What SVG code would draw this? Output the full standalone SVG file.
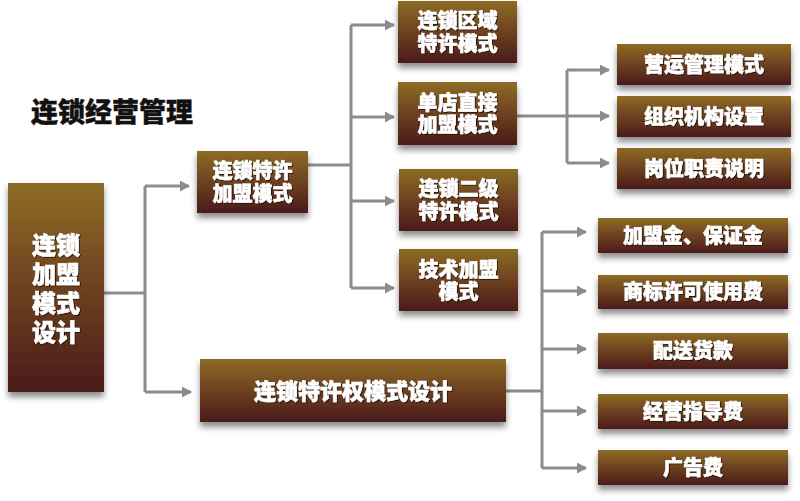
<svg xmlns="http://www.w3.org/2000/svg" width="800" height="501" viewBox="0 0 800 501">
<defs>
<linearGradient id="g" x1="0" y1="0" x2="0" y2="1">
<stop offset="0" stop-color="#8e6c25"/>
<stop offset="0.5" stop-color="#6d4120"/>
<stop offset="1" stop-color="#4b1a1c"/>
</linearGradient>
<filter id="sh" x="-10%" y="-20%" width="120%" height="160%">
<feDropShadow dx="0" dy="5" stdDeviation="3" flood-color="#000" flood-opacity="0.45"/>
</filter>
<filter id="ts" x="-10%" y="-20%" width="120%" height="160%">
<feDropShadow dx="1" dy="1" stdDeviation="0.6" flood-color="#1a0a05" flood-opacity="0.8"/>
</filter>
<marker id="ar" markerUnits="userSpaceOnUse" markerWidth="10" markerHeight="11" refX="9" refY="5.5" orient="auto">
<path d="M0,0 L10,5.5 L0,11 z" fill="#8c8c8c"/>
</marker>
</defs>
<style>
.box{fill:url(#g);filter:url(#sh);}
.t{font-family:"Liberation Sans","Noto Sans CJK SC",sans-serif;font-weight:900;fill:#fff;stroke:#fff;stroke-width:0.5;text-anchor:middle;dominant-baseline:central;filter:url(#ts);}
.c{fill:none;stroke:#8c8c8c;stroke-width:3;}
.a{marker-end:url(#ar);}
</style>
<rect width="800" height="501" fill="#fff"/>
<text x="112" y="113" font-family="Liberation Sans, Noto Sans CJK SC, sans-serif" font-weight="900" font-size="27" text-anchor="middle" dominant-baseline="central" fill="#111" stroke="#111" stroke-width="0.4">连锁经营管理</text>

<g id="connectors">
<path class="c" d="M104,293 H145 M145,186 V392"/>
<path class="c a" d="M145,186 H189"/>
<path class="c a" d="M145,392 H191"/>
<path class="c" d="M308,165 H351 M351,25 V288"/>
<path class="c a" d="M351,25 H394"/>
<path class="c a" d="M351,117 H394"/>
<path class="c a" d="M351,201 H394"/>
<path class="c a" d="M351,288 H394"/>
<path class="c" d="M517,116 H567 M567,70 V163"/>
<path class="c a" d="M567,70 H609"/>
<path class="c a" d="M567,116 H609"/>
<path class="c a" d="M567,163 H609"/>
<path class="c" d="M506,391 H542 M542,232 V468"/>
<path class="c a" d="M542,232 H586"/>
<path class="c a" d="M542,291 H586"/>
<path class="c a" d="M542,349 H586"/>
<path class="c a" d="M542,411 H586"/>
<path class="c a" d="M542,468 H586"/>
</g>

<g id="n-root">
<rect class="box" x="8" y="183" width="96" height="209"/>
<text class="t" font-size="24"><tspan x="56" y="245">连锁</tspan><tspan x="56" y="274">加盟</tspan><tspan x="56" y="303">模式</tspan><tspan x="56" y="332">设计</tspan></text>
</g>
<g id="n-franchise">
<rect class="box" x="197" y="151" width="111" height="62"/>
<text class="t" font-size="20"><tspan x="252.5" y="171">连锁特许</tspan><tspan x="252.5" y="193.5">加盟模式</tspan></text>
</g>
<g id="n-rights">
<rect class="box" x="200" y="359" width="306" height="63"/>
<text class="t" font-size="22" x="353" y="391">连锁特许权模式设计</text>
</g>
<g id="n-region">
<rect class="box" x="398" y="1" width="119" height="62"/>
<text class="t" font-size="20"><tspan x="457.5" y="21">连锁区域</tspan><tspan x="457.5" y="43.5">特许模式</tspan></text>
</g>
<g id="n-single">
<rect class="box" x="398" y="82" width="119" height="63"/>
<text class="t" font-size="20"><tspan x="457.5" y="102.5">单店直接</tspan><tspan x="457.5" y="125">加盟模式</tspan></text>
</g>
<g id="n-second">
<rect class="box" x="399" y="169" width="119" height="62"/>
<text class="t" font-size="20"><tspan x="458.5" y="189">连锁二级</tspan><tspan x="458.5" y="211.5">特许模式</tspan></text>
</g>
<g id="n-tech">
<rect class="box" x="399" y="249" width="119" height="62"/>
<text class="t" font-size="20"><tspan x="458.5" y="269.5">技术加盟</tspan><tspan x="458.5" y="292">模式</tspan></text>
</g>
<g id="n-ops">
<rect class="box" x="617" y="44" width="174" height="41"/>
<text class="t" font-size="20" x="704" y="64.5">营运管理模式</text>
</g>
<g id="n-org">
<rect class="box" x="617" y="96" width="174" height="41"/>
<text class="t" font-size="20" x="704" y="116.5">组织机构设置</text>
</g>
<g id="n-duty">
<rect class="box" x="617" y="148" width="174" height="41"/>
<text class="t" font-size="20" x="704" y="168.5">岗位职责说明</text>
</g>
<g id="n-fee1">
<rect class="box" x="598" y="218" width="190" height="35"/>
<text class="t" font-size="20" x="693" y="235.5">加盟金、保证金</text>
</g>
<g id="n-fee2">
<rect class="box" x="598" y="275" width="190" height="34"/>
<text class="t" font-size="20" x="693" y="292">商标许可使用费</text>
</g>
<g id="n-fee3">
<rect class="box" x="598" y="333" width="190" height="36"/>
<text class="t" font-size="20" x="693" y="351">配送货款</text>
</g>
<g id="n-fee4">
<rect class="box" x="598" y="394" width="190" height="35"/>
<text class="t" font-size="20" x="693" y="411.5">经营指导费</text>
</g>
<g id="n-fee5">
<rect class="box" x="598" y="450" width="190" height="35"/>
<text class="t" font-size="20" x="693" y="467.5">广告费</text>
</g>
</svg>
